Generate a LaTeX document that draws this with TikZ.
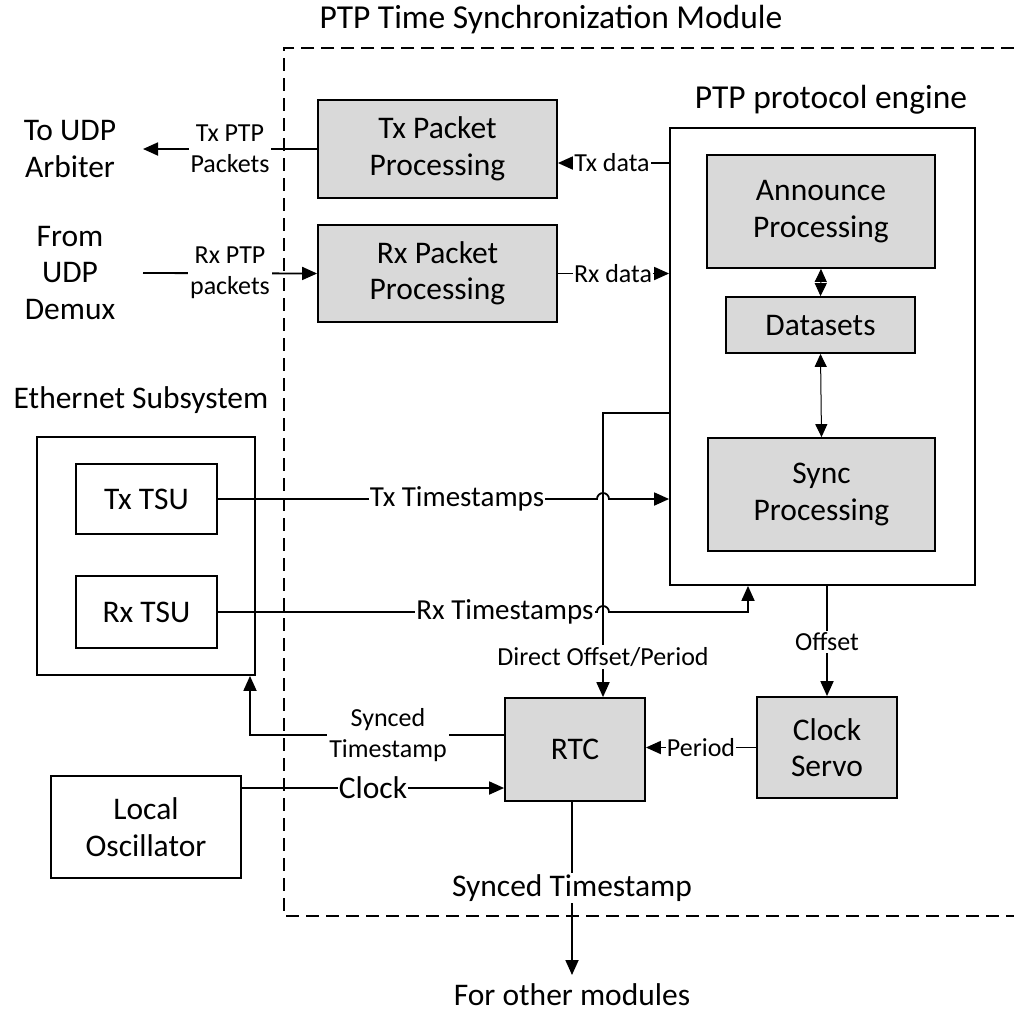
\documentclass[tikz,border=0pt]{standalone}
\usepackage{fontspec}
\setmainfont{Carlito}
\usetikzlibrary{arrows.meta}
\definecolor{boxgray}{RGB}{217,217,217}
\begin{document}
\begin{tikzpicture}[x=1pt,y=-1pt, line width=1.8pt,
  big/.style={font=\fontsize{31.5}{36.5}\selectfont},
  head/.style={font=\fontsize{33.5}{38}\selectfont},
  mid/.style={font=\fontsize{29}{34}\selectfont},
  small/.style={font=\fontsize{26}{31}\selectfont},
  block/.style={draw, fill=boxgray, big, align=center, inner sep=0pt},
  frame/.style={draw, fill=white, big, align=center, inner sep=0pt},
  tag/.style={fill=white, small, align=center, inner sep=2pt},
  midtag/.style={fill=white, mid, align=center, inner sep=1pt},
  bigtag/.style={fill=white, big, align=center, inner sep=2pt},
  txt/.style={big, align=center, inner sep=0pt},
  arr/.style={-{Triangle[length=15pt,width=13pt]}},
  dbl/.style={line width=1pt, {Triangle[length=13pt,width=12pt]}-{Triangle[length=13pt,width=12pt]}},
]
\fill[white] (0,0) rectangle (1014,1013);
\useasboundingbox (0,0) rectangle (1014,1013);

% module boundary
\draw[dash pattern=on 13pt off 7pt] (1014,48) -- (284,48) -- (284,916) -- (1014,916);
\node[txt, head] (modtitle) at (551,20) {PTP Time Synchronization Module};

% outer labels
\node[txt] (toudp) at (70,149) {To UDP\\Arbiter};
\node[txt] (fromudp) at (70,273) {From\\UDP\\Demux};
\coordinate (txout) at (143,149);
\coordinate (rxin) at (143,273);

% packet processing
\node[block, minimum width=239pt, minimum height=98pt] (txpp) at (437.5,149) {Tx Packet\\Processing};
\node[block, minimum width=239pt, minimum height=97pt] (rxpp) at (437.5,273.5) {Rx Packet\\Processing};

% protocol engine
\node[txt, head] (enginelabel) at (831,100) {PTP protocol engine};
\node[frame, minimum width=305pt, minimum height=457pt] (engine) at (822.5,356.5) {};
\node[block, minimum width=228pt, minimum height=113pt] (announce) at (821,211.5) {Announce\\Processing};
\node[block, minimum width=189pt, minimum height=56pt] (datasets) at (820.5,325) {Datasets};
\node[block, minimum width=227pt, minimum height=113pt] (sync) at (821.5,494.5) {Sync\\Processing};

% ethernet subsystem
\node[txt] (ethlabel) at (141,400) {Ethernet Subsystem};
\node[frame, minimum width=218pt, minimum height=238pt] (eth) at (146,556) {};
\node[frame, minimum width=141pt, minimum height=70pt] (txtsu) at (146.5,499) {Tx TSU};
\node[frame, minimum width=141pt, minimum height=72pt] (rxtsu) at (146.5,612) {Rx TSU};

% oscillator, RTC, servo
\node[frame, minimum width=190pt, minimum height=102pt] (lo) at (146,827) {Local\\Oscillator};
\node[block, minimum width=140pt, minimum height=103pt] (rtc) at (575,749.5) {RTC};
\node[block, minimum width=140pt, minimum height=101pt] (servo) at (827,747.5) {Clock\\Servo};

% connector anchors
\coordinate (txd) at (670,163);
\coordinate (doff) at (670,413);
\coordinate (doffx) at (603,413);
\coordinate (rxup) at (748,612);
\coordinate (rtcst) at (505,735);
\coordinate (ethup) at (250,735);
\coordinate (clk) at (241,788);
\coordinate (outx) at (572,801);
\coordinate (outend) at (572,975);

% connectors
\draw[arr] (txpp.west) -- (txout);
\draw[arr] (rxin) -- (rxpp.west);
\draw[arr] (txd) -- (txd -| txpp.east);
\draw[arr] (rxpp.east) -- (rxpp.east -| engine.west);
\draw[dbl] (announce.south) -- (datasets.north);
\draw[dbl] (datasets.south) -- (sync.north);
\draw[arr] (doff) -- (doffx) -- (doffx |- rtc.north);
\draw[arr] (txtsu.east) -- (597,499) arc[start angle=180, end angle=0, radius=6pt] -- (txtsu.east -| engine.west);
\draw[arr] (rxtsu.east) -- (597,612) arc[start angle=180, end angle=0, radius=6pt] -- (rxup) -- (rxup |- engine.south);
\draw[arr] (servo.north |- engine.south) -- (servo.north);
\draw[arr] (servo.west) -- (servo.west -| rtc.east);
\draw[arr] (rtcst) -- (ethup) -- (ethup |- eth.south);
\draw[arr] (clk) -- (clk -| rtc.west);
\draw[arr] (outx) -- (outend);

% connector labels
\node[tag] (txptp) at (230,149) {Tx PTP\\Packets};
\node[tag] (rxptp) at (230,273) {Rx PTP\\packets};
\node[tag, inner sep=1pt] (txdata) at (612,163) {Tx data};
\node[tag, inner sep=1pt] (rxdata) at (613,274) {Rx data};
\node[midtag] (txts) at (457,499) {Tx Timestamps};
\node[midtag] (rxts) at (505,612) {Rx Timestamps};
\node[tag] (doffl) at (603,657) {Direct Offset/Period};
\node[tag] (offl) at (827,642) {Offset};
\node[tag, inner sep=1pt] (perl) at (701,748) {Period};
\node[tag] (syncts) at (388,735) {Synced\\Timestamp};
\node[bigtag, inner sep=1pt] (clkl) at (373,788) {Clock};
\node[bigtag] (outts) at (572,888) {Synced Timestamp};
\node[txt] (others) at (572,995) {For other modules};
\end{tikzpicture}
\end{document}
